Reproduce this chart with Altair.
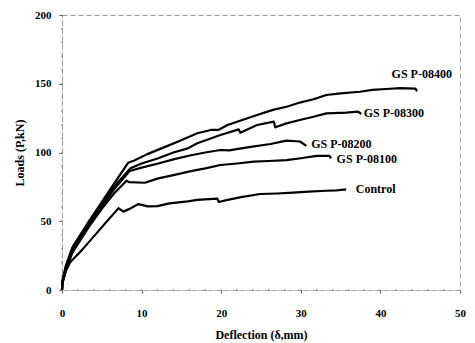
import altair as alt
import pandas as pd

series_names = ["GSP-08400", "GSP-08300", "GSP-08200", "GSP-08100", "Control"]

x_08400 = [0, 0.05, 0.5, 1.3, 2.5, 3.5, 5.0, 6.5, 8.3, 9.0, 10.8, 12.5, 14.6, 17.0, 18.7, 19.7, 20.8, 22.0, 24.5, 26.5, 28.2, 30.0, 31.6, 33.2, 35.0, 37.4, 39.0, 40.7, 42.5, 44.4, 44.6]
y_08400 = [0, 7, 18, 31, 42, 51, 64, 77, 92.5, 94, 99, 103, 108, 114, 116.4, 116.5, 120, 122.4, 127.3, 131, 133.3, 136.5, 138.7, 141.8, 143, 144.2, 145.5, 146.2, 146.8, 146.5, 144.5]

x_08300 = [0, 0.05, 0.5, 1.3, 2.5, 3.5, 5.0, 6.5, 8.6, 10.0, 12.1, 14.0, 15.8, 17.0, 19.9, 22.2, 22.4, 24.5, 26.6, 26.8, 28.2, 30.0, 31.6, 33.2, 35.7, 37.2, 37.6]
y_08300 = [0, 6, 17, 29, 40, 49, 62, 75, 88.5, 92, 95.8, 100, 103, 106.7, 112.7, 116.8, 114.4, 120, 122.4, 118.3, 121.2, 123.8, 126, 128.5, 129, 129.7, 128]

x_08200 = [0, 0.05, 0.5, 1.3, 2.5, 3.5, 5.0, 6.5, 8.5, 10.0, 12.1, 14.0, 16.2, 18.0, 19.9, 21.0, 23.3, 26.2, 28.2, 29.9, 30.7]
y_08200 = [0, 6, 16, 28, 39, 48, 61, 73, 86.5, 89, 92, 95, 98, 100, 101.8, 101.5, 103.7, 106.2, 108.6, 108, 104.8]

x_08100 = [0, 0.05, 0.5, 1.3, 2.5, 3.5, 5.0, 6.5, 8.1, 8.4, 10.4, 12.1, 14.0, 16.2, 18.0, 19.9, 22.0, 24.1, 26.0, 28.2, 30.0, 32.0, 33.6, 33.8]
y_08100 = [0, 5, 15, 27, 38, 47, 59, 70, 79.5, 78.5, 78, 81.2, 83.5, 86.5, 88.5, 90.9, 92, 93.3, 93.8, 94.5, 95.8, 97.5, 97.5, 95.8]

x_control = [0, 0.05, 0.5, 1.0, 2.5, 4.0, 5.5, 7.1, 7.7, 8.5, 9.6, 10.8, 12.0, 13.5, 15.8, 17.0, 19.5, 19.7, 20.8, 22.5, 24.9, 27.0, 29.0, 31.0, 33.2, 34.5, 35.7]
y_control = [0, 5, 14, 20, 29, 39, 49, 59.5, 57, 59, 62.5, 60.8, 61, 63, 64.5, 65.5, 66.5, 64, 65.5, 67.5, 69.8, 70.2, 70.8, 71.5, 72.2, 72.5, 73.2]

label_texts = ["GS P-08400", "GS P-08300", "GS P-08200", "GS P-08100", "Control"]
label_x = [41.4, 37.9, 31.3, 34.5, 36.9]
label_y = [157, 128.5, 106, 95, 73.2]

x_major_ticks = [0, 10, 20, 30, 40, 50]
y_major_ticks = [0, 50, 100, 150, 200]
x_minor_ticks = list(range(2, 50, 2))
y_minor_ticks = list(range(10, 200, 10))

rows = []
for name, xs, ys in zip(series_names,
                        [x_08400, x_08300, x_08200, x_08100, x_control],
                        [y_08400, y_08300, y_08200, y_08100, y_control]):
    for i, (xv, yv) in enumerate(zip(xs, ys)):
        rows.append({"series": name, "x": xv, "y": yv, "order": i})
df = pd.DataFrame(rows)
labels = pd.DataFrame({"text": label_texts, "x": label_x, "y": label_y})
xminor = pd.DataFrame({"x": x_minor_ticks, "y": [0] * len(x_minor_ticks)})
yminor = pd.DataFrame({"y": y_minor_ticks, "x": [0] * len(y_minor_ticks)})

FONT = "Liberation Serif"

x_scale = alt.Scale(domain=[0, 50], nice=False)
y_scale = alt.Scale(domain=[0, 200], nice=False)

x_enc = alt.X("x:Q", scale=x_scale,
              axis=alt.Axis(values=x_major_ticks, labelFlush=False,
                            title="Deflection (\u03b4,mm)", titlePadding=11,
                            labelPadding=14))
y_enc = alt.Y("y:Q", scale=y_scale,
              axis=alt.Axis(values=y_major_ticks, labelFlush=False,
                            title="Loads (P,kN)", titlePadding=8,
                            labelPadding=8))

lines = alt.Chart(df).mark_line(color="black", strokeWidth=2.2, strokeJoin="round").encode(
    x=x_enc, y=y_enc, detail="series:N", order="order:Q"
)

texts = alt.Chart(labels).mark_text(
    align="left", baseline="middle", font=FONT, fontWeight="bold", fontSize=12, color="black"
).encode(x="x:Q", y="y:Q", text="text:N")

xdots = alt.Chart(xminor).mark_square(size=2, color="#888888", opacity=1).encode(
    x=alt.X("x:Q", scale=x_scale), y=alt.Y("y:Q", scale=y_scale)
)
ydots = alt.Chart(yminor).mark_square(size=2, color="#888888", opacity=1).encode(
    x=alt.X("x:Q", scale=x_scale), y=alt.Y("y:Q", scale=y_scale)
)

chart = (xdots + ydots + lines + texts).properties(
    width=398, height=275,
    autosize=alt.AutoSizeParams(type="none"),
    padding={"left": 54, "top": 7, "right": 7, "bottom": 52},
).configure_axis(
    grid=False,
    labelFont=FONT, labelFontWeight="bold", labelFontSize=11, labelColor="black",
    titleFont=FONT, titleFontWeight="bold", titleFontSize=12, titleColor="black",
    domainColor="#aaaaaa", domainDash=[2, 2], domainWidth=1,
    tickColor="#555555", tickSize=3, tickWidth=1,
).configure_view(
    stroke="#999999", strokeDash=[5, 3], strokeWidth=1
)

chart.save("out.html", embed_options={"renderer": "svg", "actions": False})
